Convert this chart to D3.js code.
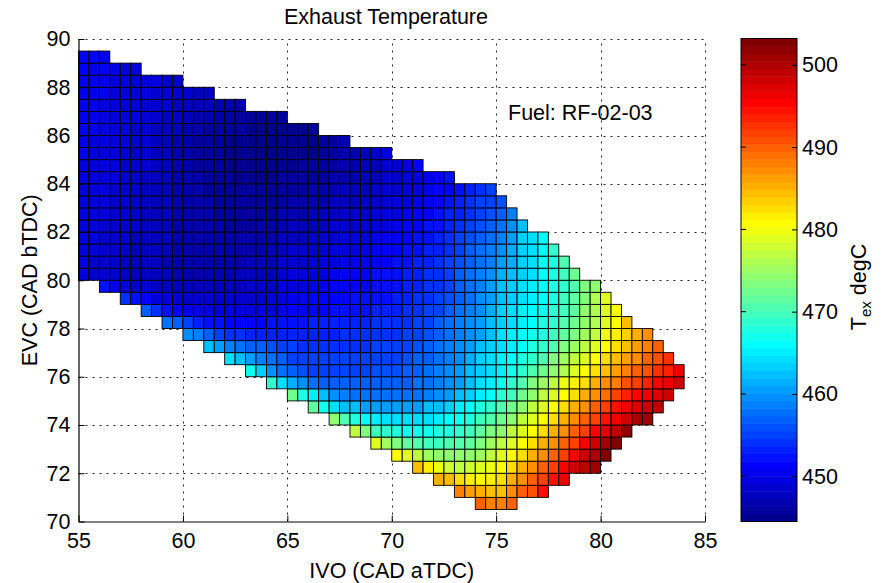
<!DOCTYPE html>
<html>
<head>
<meta charset="utf-8">
<script src="https://cdn.jsdelivr.net/npm/d3@7"></script>
<style>
  body { margin: 0; background: #fff; }
  text { font-family: "Liberation Sans", Arial, Helvetica, sans-serif; fill: #000; }
</style>
</head>
<body>
<svg id="chart" width="887" height="583"></svg>
<script>
// Axis ticks
const ivoTicks = [55, 60, 65, 70, 75, 80, 85];
const evcTicks = [70, 72, 74, 76, 78, 80, 82, 84, 86, 88, 90];
const colorbarTicks = [450, 460, 470, 480, 490, 500];

// Grid cells are 0.5 CAD wide in both IVO and EVC
const cellStep = 0.5;

// Lower EVC edge of each row of cells (bottom row first)
const evcRowLow = [70.5, 71, 71.5, 72, 72.5, 73, 73.5, 74, 74.5, 75, 75.5, 76, 76.5, 77, 77.5, 78, 78.5, 79, 79.5,
                   80, 80.5, 81, 81.5, 82, 82.5, 83, 83.5, 84, 84.5, 85, 85.5, 86, 86.5, 87, 87.5, 88, 88.5, 89];

// IVO of the first (left-most) cell in each row
const ivoRowStart = [74, 73, 72, 71, 70, 69, 68, 67, 66, 65, 64, 63, 62, 61, 60, 59, 58, 57, 56,
                     55, 55, 55, 55, 55, 55, 55, 55, 55, 55, 55, 55, 55, 55, 55, 55, 55, 55, 55];

// Exhaust temperature (degC) of each cell, row by row, left to right
const texRows = [
  [490, 488, 488, 490],
  [488.5, 486, 485, 484, 484, 487, 489.5, 491, 494.5],
  [485.5, 484, 482.5, 481.5, 481, 481.5, 483, 485, 487, 489.5, 491.5, 494.5, 496.5],
  [484, 481.5, 479.5, 478, 477.5, 478, 479, 480, 481, 483, 485.5, 487.5, 490, 492, 495, 498, 499.5, 501],
  [481, 479, 477, 475.5, 474.5, 474, 474, 474.5, 475.5, 477, 479, 481, 483, 485.5, 487.5, 490, 492, 495, 498, 500, 503.2],
  [478.5, 475, 473, 471.5, 470.5, 470, 470, 470.5, 471, 472, 473.5, 475, 477, 479, 481, 483, 485.5, 487.5, 490, 492, 495, 498, 500.5, 502.5],
  [477.5, 473, 470, 468.5, 467.5, 467, 467, 467, 467.5, 468, 469, 470, 471.5, 473, 474.5, 477, 479, 481, 483, 485.5, 487.5, 490, 492, 495, 497.5, 499.5, 501.5],
  [474.5, 471, 467.5, 466, 465, 464.5, 464, 464, 464, 464.5, 465, 466, 467, 468, 469.5, 471, 472.5, 474.5, 477, 479, 481, 483, 485.5, 487.5, 490, 492, 494.5, 496.5, 498.5, 500, 501],
  [471.5, 467, 464, 462.5, 462, 461, 460.5, 460.5, 460.5, 460.5, 461, 462, 462.5, 463.5, 465, 466, 467.5, 469, 471, 472.5, 474.5, 477, 479, 481, 483, 485.5, 487.5, 490, 492, 494.5, 496.5, 497.5, 498.5, 499.5],
  [472.5, 468, 465, 462, 460, 459, 458, 457.5, 457.5, 457.5, 457.5, 457.5, 458, 458.5, 459.5, 460.5, 462, 463.5, 465, 466.5, 468.5, 470, 472.5, 474.5, 477, 479, 481, 483, 485.5, 487.5, 489, 491.5, 493.5, 495, 496.5, 497.5, 498.5],
  [469, 464.5, 461.5, 459.5, 458, 457, 456.5, 456.5, 456.5, 456.5, 456.5, 456.5, 456.5, 457, 457.5, 458, 459, 460, 461, 462.5, 464, 465.5, 467, 469, 471, 473, 475.5, 477.5, 479.5, 481.5, 483, 485.5, 487, 488.5, 491, 492, 493.5, 495, 496.5, 498.5],
  [467, 463, 460, 458, 456.5, 456, 455.5, 455.5, 455.5, 455.5, 455.5, 455.5, 456, 456, 456, 456.5, 457, 457.5, 458.5, 459.5, 460.5, 462, 463.5, 464.5, 465.5, 467, 468.5, 470.5, 472.5, 474.5, 476.5, 478.5, 480.5, 482.5, 484.5, 486, 488, 489.5, 491, 492.5, 494, 496],
  [464, 462, 460.5, 459, 457.5, 456.5, 455.5, 455, 455, 455, 455, 455, 455, 455, 455.5, 455.5, 455.5, 456, 456.5, 457, 458, 459, 460, 461.5, 463, 464, 465, 466, 467.5, 469, 471, 473, 475, 477, 479, 481, 483, 484.5, 486, 487.5, 489.5, 491, 493],
  [462.5, 460.5, 459, 458, 457, 456.5, 456, 455.5, 455, 454.5, 454.5, 454.5, 454.5, 454.5, 454.5, 454.5, 455, 455, 455, 455.5, 456, 456.5, 457.5, 458.5, 459.5, 460.5, 462, 463, 464.5, 465.5, 466.5, 467.5, 469, 471, 473, 475, 477, 479, 481, 482.5, 484, 486, 488, 490],
  [460, 458.5, 456.5, 455.5, 454.5, 454, 453.5, 453, 453, 453, 453, 453.5, 453.5, 453.5, 453.5, 454, 454, 454, 454.5, 454.5, 454.5, 455, 455.5, 456, 457, 458, 459, 460, 461, 462.5, 464, 465, 466, 467, 468, 469.5, 471.5, 473.5, 475.5, 477.5, 479.5, 481.5, 483.5, 485.5, 487.5],
  [458, 456.5, 455, 453.5, 452.5, 452, 451.5, 451.5, 451.5, 451.5, 452, 452, 452.5, 452.5, 453, 453, 453, 453.5, 453.5, 453.5, 454, 454, 454, 454.5, 455, 455.5, 456.5, 457.5, 458.5, 459.5, 460.5, 462, 463.5, 464.5, 465.5, 466.5, 467.5, 469, 470.5, 472.5, 474.5, 476.5, 478.5, 481, 484],
  [456.5, 454, 452.5, 451, 450.5, 450, 449.5, 449.5, 449.5, 449.5, 449.5, 450, 450, 450.5, 451, 451, 451.5, 451.5, 452, 452, 452.5, 452.5, 453, 453, 453.5, 454, 454.5, 455, 455.5, 456.5, 457.5, 458.5, 460, 461.5, 463, 464, 465, 466, 467, 468.5, 470, 472, 474, 476, 478.5, 481],
  [454, 452.5, 451, 450, 449.5, 449, 448.5, 448.5, 448.5, 448.5, 448.5, 448.5, 449, 449, 449.5, 450, 450.5, 450.5, 451, 451, 451.5, 451.5, 452, 452, 452.5, 452.5, 453, 453.5, 454, 454.5, 455, 456, 457, 458, 459.5, 461, 462.5, 463.5, 464.5, 465.5, 466.5, 468, 469.5, 471.5, 473.5, 476, 479],
  [452, 450.5, 449.5, 449, 448.5, 448, 448, 448, 447.5, 447.5, 447.5, 447.5, 448, 448, 448.5, 448.5, 449, 449.5, 450, 450, 450.5, 450.5, 451, 451, 451.5, 451.5, 452, 452, 452.5, 453, 453.5, 454, 454.5, 455.5, 456.5, 457.5, 459, 460.5, 462, 463, 464, 465, 466, 467.5, 469, 471, 473, 474.5],
  [449.5, 449, 448.5, 448.5, 448, 448, 447.5, 447.5, 447.5, 447, 447, 447, 447, 447, 447, 447.5, 447.5, 448, 448, 448.5, 449.5, 449.5, 450, 450, 450.5, 451, 451, 451.5, 452, 452, 452.5, 453, 453.5, 454, 454.5, 455.5, 456.5, 457.5, 458.5, 459.5, 461.5, 462.5, 463.5, 464.5, 466, 467.5, 469.5, 472.5],
  [449.5, 449, 449, 448.5, 448, 448, 447.5, 447.5, 447, 447, 447, 447, 447, 447, 447, 447, 447.5, 447.5, 448, 448.5, 449, 449, 449.5, 449.5, 450, 450.5, 450.5, 451, 451.5, 451.5, 452, 452.5, 453, 453.5, 454, 455, 456, 457, 458, 459, 460.5, 461.5, 463, 464.5, 466, 468, 471],
  [449.5, 449.5, 449, 448.5, 448.5, 448, 448, 447.5, 447.5, 447, 447, 447, 447, 446.5, 446.5, 446.5, 447, 447, 447.5, 448, 448.5, 448.5, 449, 449, 449.5, 450, 450, 450.5, 451, 451, 451.5, 452, 452.5, 453, 453.5, 454.5, 455.5, 456.5, 457.5, 458.5, 460, 461.5, 463, 464.5, 466.5, 468.5],
  [449.5, 449.5, 449, 449, 448.5, 448, 448, 447.5, 447.5, 447, 447, 446.5, 446.5, 446.5, 446.5, 446.5, 446.5, 447, 447, 447.5, 448, 448, 448.5, 448.5, 449, 449.5, 449.5, 450, 450.5, 450.5, 451, 451.5, 452, 452.5, 453, 454, 455, 456, 457, 458, 459, 461, 463, 464.5, 466],
  [449.5, 449.5, 449, 449, 448.5, 448.5, 448, 447.5, 447.5, 447, 447, 446.5, 446.5, 446.5, 446, 446, 446, 446.5, 446.5, 447, 447.5, 447.5, 448, 448, 448.5, 449, 449, 449.5, 450, 450, 450.5, 451, 451.5, 452, 452.5, 453.5, 454, 455, 456, 457, 458, 460, 462.5],
  [450, 449.5, 449.5, 449, 448.5, 448.5, 448, 448, 447.5, 447, 447, 446.5, 446.5, 446, 446, 446, 446, 446, 446, 446.5, 447, 447, 447.5, 447.5, 448, 448.5, 448.5, 449, 449.5, 449.5, 450, 450.5, 451, 451.5, 452, 453, 453.5, 454.5, 455.5, 456, 457, 459],
  [450, 449.5, 449.5, 449, 449, 448.5, 448, 448, 447.5, 447, 447, 446.5, 446.5, 446, 446, 445.5, 445.5, 445.5, 446, 446, 446.5, 446.5, 447, 447, 447.5, 448, 448, 448.5, 449, 449, 449.5, 450, 450.5, 451, 451.5, 452.5, 453, 454, 455, 455.5, 456],
  [450, 450, 449.5, 449, 449, 448.5, 448, 448, 447.5, 447, 447, 446.5, 446, 446, 445.5, 445.5, 445.5, 445.5, 445.5, 446, 446, 446, 446.5, 446.5, 447, 447.5, 447.5, 448, 448.5, 448.5, 449, 449.5, 450, 450.5, 451, 451.5, 452.5, 453, 454, 455],
  [450, 450, 449.5, 449.5, 449, 448.5, 448, 448, 447.5, 447, 446.5, 446.5, 446, 445.5, 445.5, 445, 445, 445, 445, 445.5, 445.5, 445.5, 446, 446, 446.5, 447, 447, 447.5, 448, 448.5, 449, 449.5, 450, 450.5, 451.5, 452.5],
  [450, 450, 450, 449.5, 449, 448.5, 448.5, 448, 447.5, 447, 446.5, 446, 446, 445.5, 445, 445, 445, 445, 445, 445, 445, 445.5, 445.5, 446, 446, 446.5, 447, 447.5, 448, 448.5, 449, 450, 451],
  [450.5, 450, 450, 449.5, 449, 449, 448.5, 448, 447.5, 447, 446.5, 446, 446, 445.5, 445, 445, 445, 444.5, 444.5, 444.5, 444.5, 445, 445, 445.5, 446, 446.5, 447, 447.5, 448.5, 449.5],
  [450.5, 450, 450, 449.5, 449.5, 449, 448.5, 448, 447.5, 447, 446.5, 446, 446, 445.5, 445, 445, 445, 444.5, 444.5, 444.5, 444.5, 444.5, 445, 445.5, 446, 447],
  [450.5, 450.5, 450, 450, 449.5, 449, 448.5, 448, 448, 447.5, 447, 446.5, 446, 446, 445.5, 445.5, 445, 445, 445, 445, 445, 445, 445.5],
  [450.5, 450.5, 450, 450, 449.5, 449.5, 449, 448.5, 448, 448, 447.5, 447, 447, 446.5, 446, 446, 446, 445.5, 445.5, 446],
  [450.5, 450.5, 450, 450, 450, 449.5, 449, 449, 448.5, 448, 448, 447.5, 447.5, 447, 447, 447],
  [450.5, 450.5, 450.5, 450, 450, 449.5, 449.5, 449, 449, 448.5, 448.5, 448, 448],
  [450.5, 450.5, 450.5, 450, 450, 450, 449.5, 449.5, 449, 449],
  [451, 450.5, 450.5, 450.5, 450, 450],
  [451, 451, 450.5]
];

// Flatten rows into cells
const cells = [];
texRows.forEach((row, r) => {
  row.forEach((t, k) => {
    cells.push({ ivo: ivoRowStart[r] + k * cellStep, evc: evcRowLow[r], tex: t });
  });
});

// MATLAB-style 64-level jet colormap
const nColors = 64;
function jetColormap(m) {
  const n = Math.ceil(m / 4);
  const u = [];
  for (let i = 1; i <= n; i++) u.push(i / n);
  for (let i = 1; i < n; i++) u.push(1);
  for (let i = n; i >= 1; i--) u.push(i / n);
  const g0 = Math.ceil(n / 2) - (m % 4 === 1 ? 1 : 0);
  const map = Array.from({ length: m }, () => [0, 0, 0]);
  u.forEach((val, k) => {
    const g = g0 + k + 1, r = g + n, b = g - n;
    if (r >= 1 && r <= m) map[r - 1][0] = val;
    if (g >= 1 && g <= m) map[g - 1][1] = val;
    if (b >= 1 && b <= m) map[b - 1][2] = val;
  });
  return map.map(c => d3.rgb(c[0] * 255, c[1] * 255, c[2] * 255).formatHex());
}
const jet = jetColormap(nColors);

const [cMin, cMax] = d3.extent(cells, d => d.tex);
const colorIndex = d3.scaleQuantize().domain([cMin, cMax]).range(d3.range(nColors));
const colorOf = v => jet[colorIndex(v)];

const svg = d3.select("#chart");
svg.append("rect").attr("width", 887).attr("height", 583).attr("fill", "#fff");

// Plot area
const plot = { left: 78.5, right: 705, top: 39, bottom: 521.5 };
const x = d3.scaleLinear().domain([55, 85]).range([plot.left, plot.right]);
const y = d3.scaleLinear().domain([70, 90]).range([plot.bottom, plot.top]);

// Dotted grid behind the data
const grid = svg.append("g").attr("stroke", "#222").attr("stroke-width", 1).attr("stroke-dasharray", "2,5");
grid.selectAll("line.gx").data(ivoTicks.slice(1)).join("line")
  .attr("x1", d => Math.round(x(d)) + 0.5).attr("x2", d => Math.round(x(d)) + 0.5)
  .attr("y1", plot.bottom).attr("y2", plot.top);
grid.selectAll("line.gy").data(evcTicks.slice(1)).join("line")
  .attr("y1", d => Math.round(y(d)) + 0.5).attr("y2", d => Math.round(y(d)) + 0.5)
  .attr("x1", plot.left).attr("x2", plot.right);

// Temperature cells
svg.append("g").selectAll("rect").data(cells).join("rect")
  .attr("x", d => x(d.ivo))
  .attr("y", d => y(d.evc + cellStep))
  .attr("width", d => x(d.ivo + cellStep) - x(d.ivo))
  .attr("height", d => y(d.evc) - y(d.evc + cellStep))
  .attr("fill", d => colorOf(d.tex))
  .attr("stroke", "#000")
  .attr("stroke-width", 0.9);

// Axes (ticks pointing inward)
const fontSize = 21.5;
const xAxis = svg.append("g").attr("transform", `translate(0,${plot.bottom})`)
  .call(d3.axisBottom(x).tickValues(ivoTicks).tickSizeInner(-6).tickSizeOuter(0).tickPadding(11));
const yAxis = svg.append("g").attr("transform", `translate(${plot.left},0)`)
  .call(d3.axisLeft(y).tickValues(evcTicks).tickSizeInner(-6).tickSizeOuter(0).tickPadding(8));
[xAxis, yAxis].forEach(a => {
  a.selectAll("text").attr("font-size", fontSize).attr("font-family", "Liberation Sans, Arial, sans-serif").attr("fill", "#000");
  a.selectAll("line").attr("stroke", "#000");
  a.select(".domain").attr("stroke", "#000").attr("stroke-width", 1.2);
});

// Titles and labels
svg.append("text").attr("x", 386).attr("y", 24).attr("text-anchor", "middle")
  .attr("font-size", fontSize).text("Exhaust Temperature");
svg.append("text").attr("x", (plot.left + plot.right) / 2).attr("y", 578).attr("text-anchor", "middle")
  .attr("font-size", fontSize).text("IVO (CAD aTDC)");
svg.append("text").attr("transform", `translate(37,${(plot.top + plot.bottom) / 2}) rotate(-90)`)
  .attr("text-anchor", "middle").attr("font-size", fontSize).text("EVC (CAD bTDC)");
svg.append("text").attr("x", 508).attr("y", 120).attr("font-size", fontSize).text("Fuel: RF-02-03");

// Colorbar
const cb = { left: 741, right: 797, top: 38.5, bottom: 521.5 };
const cy = d3.scaleLinear().domain([cMin, cMax]).range([cb.bottom, cb.top]);
const bandEdges = d3.range(nColors + 1).map(i => cMin + (cMax - cMin) * i / nColors);
svg.append("g").selectAll("rect").data(d3.range(nColors)).join("rect")
  .attr("x", cb.left).attr("width", cb.right - cb.left)
  .attr("y", i => cy(bandEdges[i + 1]))
  .attr("height", i => cy(bandEdges[i]) - cy(bandEdges[i + 1]) + 0.5)
  .attr("fill", i => jet[i]);
svg.append("rect").attr("x", cb.left).attr("y", cb.top)
  .attr("width", cb.right - cb.left).attr("height", cb.bottom - cb.top)
  .attr("fill", "none").attr("stroke", "#000").attr("stroke-width", 1);
const cbAxis = svg.append("g").attr("transform", `translate(${cb.right},0)`)
  .call(d3.axisRight(cy).tickValues(colorbarTicks).tickSizeInner(-5).tickSizeOuter(0).tickPadding(5));
cbAxis.select(".domain").remove();
cbAxis.selectAll("text").attr("font-size", fontSize).attr("font-family", "Liberation Sans, Arial, sans-serif").attr("fill", "#000");
cbAxis.selectAll("line").attr("stroke", "#000");
svg.append("g").selectAll("line").data(colorbarTicks).join("line")
  .attr("x1", cb.left).attr("x2", cb.left + 5)
  .attr("y1", d => cy(d)).attr("y2", d => cy(d)).attr("stroke", "#000");

const cbLabel = svg.append("text")
  .attr("transform", `translate(866,287) rotate(-90)`)
  .attr("text-anchor", "middle").attr("font-size", fontSize);
cbLabel.append("tspan").text("T");
cbLabel.append("tspan").attr("font-size", 15).attr("dy", 5).text("ex");
cbLabel.append("tspan").attr("dy", -5).text(" degC");
</script>
</body>
</html>
